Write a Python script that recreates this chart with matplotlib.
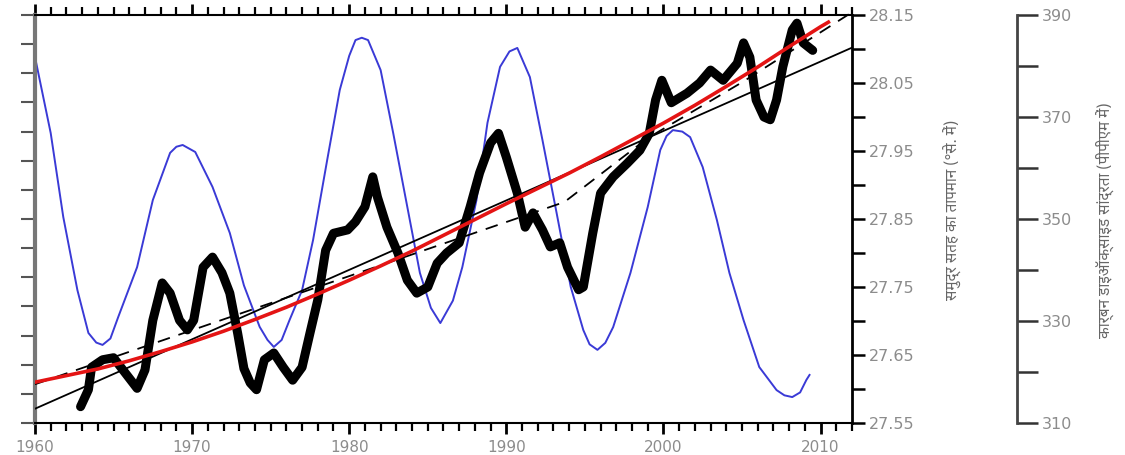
import matplotlib
matplotlib.use("Agg")
import matplotlib.pyplot as plt
from matplotlib.ticker import MultipleLocator, FixedLocator, FormatStrFormatter
import numpy as np

# --- data ---
# blue oscillation (left axis, tick units 0..14)
blue_years = [1960.0, 1961.0, 1961.8, 1962.7, 1963.4, 1963.9, 1964.3, 1964.8, 1965.3, 1966.5,
              1967.5, 1968.6, 1969.0, 1969.4, 1970.2, 1971.3, 1972.4, 1973.3, 1974.3, 1974.8,
              1975.2, 1975.7, 1976.2, 1977.0, 1977.7, 1978.6, 1979.4, 1980.0, 1980.4, 1980.8,
              1981.2, 1982.0, 1982.8, 1983.7, 1984.5, 1985.2, 1985.8, 1986.6, 1987.2, 1988.1,
              1988.8, 1989.6, 1990.2, 1990.7, 1991.5, 1992.3, 1993.2, 1994.1, 1994.9, 1995.3,
              1995.8, 1996.3, 1996.8, 1997.9, 1999.0, 1999.8, 2000.2, 2000.6, 2001.2, 2001.7,
              2002.5, 2003.4, 2004.2, 2005.1, 2006.1, 2007.2, 2007.7, 2008.2, 2008.7, 2009.1,
              2009.3]
blue_vals = [12.56, 9.95, 7.07, 4.56, 3.09, 2.76, 2.68, 2.90, 3.64, 5.35,
             7.65, 9.27, 9.48, 9.54, 9.30, 8.10, 6.52, 4.72, 3.30, 2.85,
             2.61, 2.85, 3.53, 4.56, 6.28, 9.03, 11.43, 12.60, 13.14, 13.22,
             13.14, 12.11, 9.95, 7.41, 5.15, 3.95, 3.43, 4.20, 5.35, 7.65,
             10.30, 12.22, 12.75, 12.87, 11.87, 9.71, 7.21, 4.67, 3.19, 2.70,
             2.51, 2.75, 3.29, 5.15, 7.41, 9.37, 9.85, 10.05, 10.00, 9.81,
             8.78, 6.97, 5.15, 3.53, 1.92, 1.13, 0.95, 0.89, 1.05, 1.48,
             1.65]

# thick black: sea surface temperature (right axis 1)
sst_years = [1962.9, 1963.4, 1963.6, 1964.3, 1965.0, 1965.6, 1966.5, 1967.0, 1967.5, 1968.1,
             1968.6, 1969.2, 1969.7, 1970.1, 1970.7, 1971.3, 1971.9, 1972.4, 1972.9, 1973.3,
             1973.7, 1974.1, 1974.6, 1975.2, 1975.8, 1976.4, 1977.0, 1977.5, 1978.0, 1978.5,
             1979.0, 1979.9, 1980.4, 1981.0, 1981.5, 1981.8, 1982.4, 1983.1, 1983.7, 1984.3,
             1985.0, 1985.6, 1986.2, 1987.0, 1987.7, 1988.3, 1989.0, 1989.5, 1990.0, 1990.7,
             1991.2, 1991.7, 1992.3, 1992.8, 1993.4, 1993.9, 1994.6, 1994.9, 1995.5, 1996.0,
             1996.8, 1997.7, 1998.5, 1999.1, 1999.5, 1999.9, 2000.5, 2001.5, 2002.3, 2003.0,
             2003.8, 2004.7, 2005.1, 2005.5, 2005.9, 2006.4, 2006.8, 2007.2, 2007.6, 2008.2,
             2008.5, 2008.9, 2009.5]
sst_vals = [27.574, 27.599, 27.632, 27.643, 27.646, 27.628, 27.601, 27.628, 27.701, 27.756,
            27.741, 27.701, 27.687, 27.701, 27.779, 27.794, 27.771, 27.741, 27.682, 27.630,
            27.609, 27.599, 27.643, 27.653, 27.632, 27.613, 27.632, 27.682, 27.731, 27.804,
            27.829, 27.834, 27.846, 27.868, 27.912, 27.882, 27.838, 27.800, 27.760, 27.741,
            27.750, 27.785, 27.800, 27.815, 27.868, 27.918, 27.962, 27.976, 27.941, 27.888,
            27.838, 27.859, 27.834, 27.809, 27.815, 27.779, 27.746, 27.750, 27.829, 27.888,
            27.912, 27.932, 27.951, 27.976, 28.025, 28.054, 28.021, 28.035, 28.050, 28.069,
            28.054, 28.079, 28.109, 28.088, 28.025, 28.000, 27.996, 28.025, 28.074, 28.128,
            28.138, 28.109, 28.098]

# straight trend (solid thin) and dashed trend, SST units
trend_years = [1960, 2012]
trend_vals = [27.571, 28.102]
dash_years = [1960, 1993.7, 1999.0, 2005.0, 2012]
dash_vals = [27.607, 27.875, 27.969, 28.051, 28.154]

# red: CO2 concentration (right axis 2, ppm)
co2_years = [1960, 1962, 1964, 1966, 1968, 1970, 1972, 1974, 1976, 1978, 1980, 1982, 1984,
             1986, 1988, 1990, 1992, 1994, 1996, 1998, 2000, 2002, 2004, 2006, 2008, 2010, 2010.5]
co2_vals = [318.0, 319.3, 320.6, 322.2, 324.0, 325.9, 328.0, 330.3, 332.7, 335.3, 338.0, 340.8,
            343.7, 346.8, 349.9, 353.0, 356.0, 359.0, 362.2, 365.5, 368.8, 372.3, 376.0, 379.8,
            383.8, 387.7, 388.6]

sst_label = "समुद्र सतह का तापमान (°से. में)"
co2_label = "कार्बन डाइऑक्साइड सांद्रता (पीपीएम में)"

grey = "#8c8c8c"
hindi_fonts = ["Noto Sans Devanagari", "Lohit Devanagari", "Mukta", "FreeSans", "DejaVu Sans"]

fig = plt.figure(figsize=(11.25, 4.55), dpi=100)
ax = fig.add_axes([0.0311, 0.0703, 0.7262, 0.8967])

# left axis (blue curve)
ax.plot(blue_years, blue_vals, color="#3a3ad6", lw=1.4, zorder=2)
ax.set_xlim(1960, 2012)
ax.set_ylim(0, 14)
ax.yaxis.set_major_locator(MultipleLocator(1))
ax.tick_params(axis="y", which="major", direction="out", length=10, width=1.5,
               labelleft=False, color="#555555")
ax.xaxis.set_major_locator(MultipleLocator(10))
ax.xaxis.set_minor_locator(MultipleLocator(1))
ax.tick_params(axis="x", which="major", direction="out", length=8, width=2,
               top=True, bottom=True, labelcolor=grey, labelsize=11, pad=4)
ax.tick_params(axis="x", which="minor", direction="out", length=6, width=1.6,
               top=True, bottom=True)
ax.spines["right"].set_visible(False)
ax.spines["left"].set_color("#777777")
ax.spines["left"].set_linewidth(3)
for s in ["top", "bottom"]:
    ax.spines[s].set_linewidth(1.5)

# SST axis
ax_sst = ax.twinx()
ax_sst.plot(sst_years, sst_vals, color="black", lw=6.5, solid_capstyle="round", zorder=3)
ax_sst.plot(trend_years, trend_vals, color="black", lw=1.3, zorder=4)
ax_sst.plot(dash_years, dash_vals, color="black", lw=1.3, dashes=(7, 5), zorder=4, clip_on=False)
ax_sst.set_ylim(27.55, 28.15)
ax_sst.yaxis.set_major_locator(FixedLocator(np.arange(27.55, 28.151, 0.1)))
ax_sst.yaxis.set_minor_locator(FixedLocator(np.arange(27.60, 28.11, 0.1)))
ax_sst.yaxis.set_major_formatter(FormatStrFormatter("%.2f"))
ax_sst.tick_params(axis="y", which="both", direction="out", length=9, width=1.8,
                   labelcolor=grey, labelsize=11.5, pad=3)
for s in ["left", "top", "bottom"]:
    ax_sst.spines[s].set_visible(False)
ax_sst.spines["right"].set_linewidth(2)

# CO2 axis
ax_co2 = ax.twinx()
ax_co2.plot(co2_years, co2_vals, color="#e41414", lw=2.6, zorder=5)
ax_co2.set_ylim(310, 390)
ax_co2.spines["right"].set_position(("axes", 1.202))
for s in ["left", "top", "bottom"]:
    ax_co2.spines[s].set_visible(False)
ax_co2.spines["right"].set_linewidth(2)
ax_co2.spines["right"].set_color("#444444")
ax_co2.yaxis.set_major_locator(FixedLocator([310, 330, 350, 370, 390]))
ax_co2.yaxis.set_minor_locator(FixedLocator([320, 340, 360, 380]))
ax_co2.tick_params(axis="y", which="both", direction="out", length=15, width=1.8,
                   color="#333333", labelcolor=grey, labelsize=11.5, pad=3)

fig.text(953 / 1125, 1 - 210 / 455, sst_label, rotation=90, ha="center", va="center",
         fontsize=11, color="#666666", family=hindi_fonts)
fig.text(1105 / 1125, 1 - 220 / 455, co2_label, rotation=90, ha="center", va="center",
         fontsize=11, color="#666666", family=hindi_fonts)

fig.savefig("out.png", dpi=100)
